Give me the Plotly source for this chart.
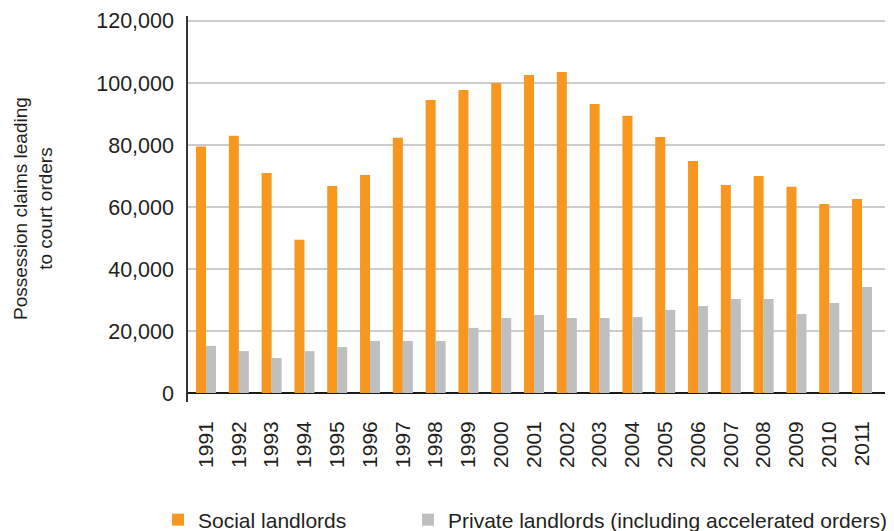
import plotly.graph_objects as go

years = [str(y) for y in range(1991, 2012)]
social = [79500, 83000, 71000, 49400, 66800, 70300, 82300, 94500, 97700, 100000,
          102600, 103500, 93200, 89400, 82600, 74800, 67100, 70000, 66500, 61000, 62600]
private = [15200, 13500, 11300, 13500, 14800, 16800, 16800, 16800, 21000, 24200,
           25200, 24200, 24200, 24500, 26800, 28100, 30300, 30300, 25500, 29000, 34200]
y_ticks = [0, 20000, 40000, 60000, 80000, 100000, 120000]

ORANGE = "#F7971F"
GREY = "#BEBFC1"
INK = "#231F20"
FONT = "Liberation Sans, Arial, Helvetica, sans-serif"

W, H = 894, 531
L, R, T, B = 188, 9, 16, 129

fig = go.Figure()
fig.add_trace(go.Bar(x=years, y=social, name="Social landlords", legend="legend",
                     marker=dict(color=ORANGE, line=dict(width=0))))
fig.add_trace(go.Bar(x=years, y=private, legend="legend2",
                     name="Private landlords (including accelerated orders)",
                     marker=dict(color=GREY, line=dict(width=0))))

legend_common = dict(orientation="h", xref="container", yref="container",
                     xanchor="left", y=11 / H, yanchor="middle",
                     font=dict(size=21, color=INK),
                     bgcolor="rgba(0,0,0,0)", borderwidth=0)

fig.update_layout(
    width=W, height=H,
    margin=dict(l=L, r=R, t=T, b=B, pad=0, autoexpand=False),
    paper_bgcolor="white", plot_bgcolor="white",
    font=dict(family=FONT, size=21, color=INK),
    barmode="group", bargap=0.39, bargroupgap=0,
    showlegend=True,
    legend=dict(x=158 / W, **legend_common),
    legend2=dict(x=408 / W, **legend_common),
    xaxis=dict(type="category", range=[-0.55, 20.7], showgrid=False, showline=False,
               zeroline=False, ticks="", tickangle=-90, ticklabelstandoff=14,
               automargin=False, tickfont=dict(size=21, color=INK)),
    yaxis=dict(range=[-2900, 121600], tickvals=y_ticks,
               ticktext=[f"{v:,}" for v in y_ticks],
               showgrid=True, gridcolor="#CCCCCC", gridwidth=2,
               zeroline=True, zerolinecolor="#1A1A1A", zerolinewidth=1.5,
               showline=True, linecolor="#333333", linewidth=1.5,
               ticks="", ticklabelstandoff=8, automargin=False,
               tickfont=dict(size=21.5, color=INK)),
    annotations=[dict(text="Possession claims leading<br>to court orders",
                      xref="paper", yref="paper", x=(33 - L) / (W - L - R), y=0.5,
                      xanchor="center", yanchor="middle", textangle=-90,
                      showarrow=False, font=dict(size=19, color=INK))],
)

fig.write_html("out.html")
